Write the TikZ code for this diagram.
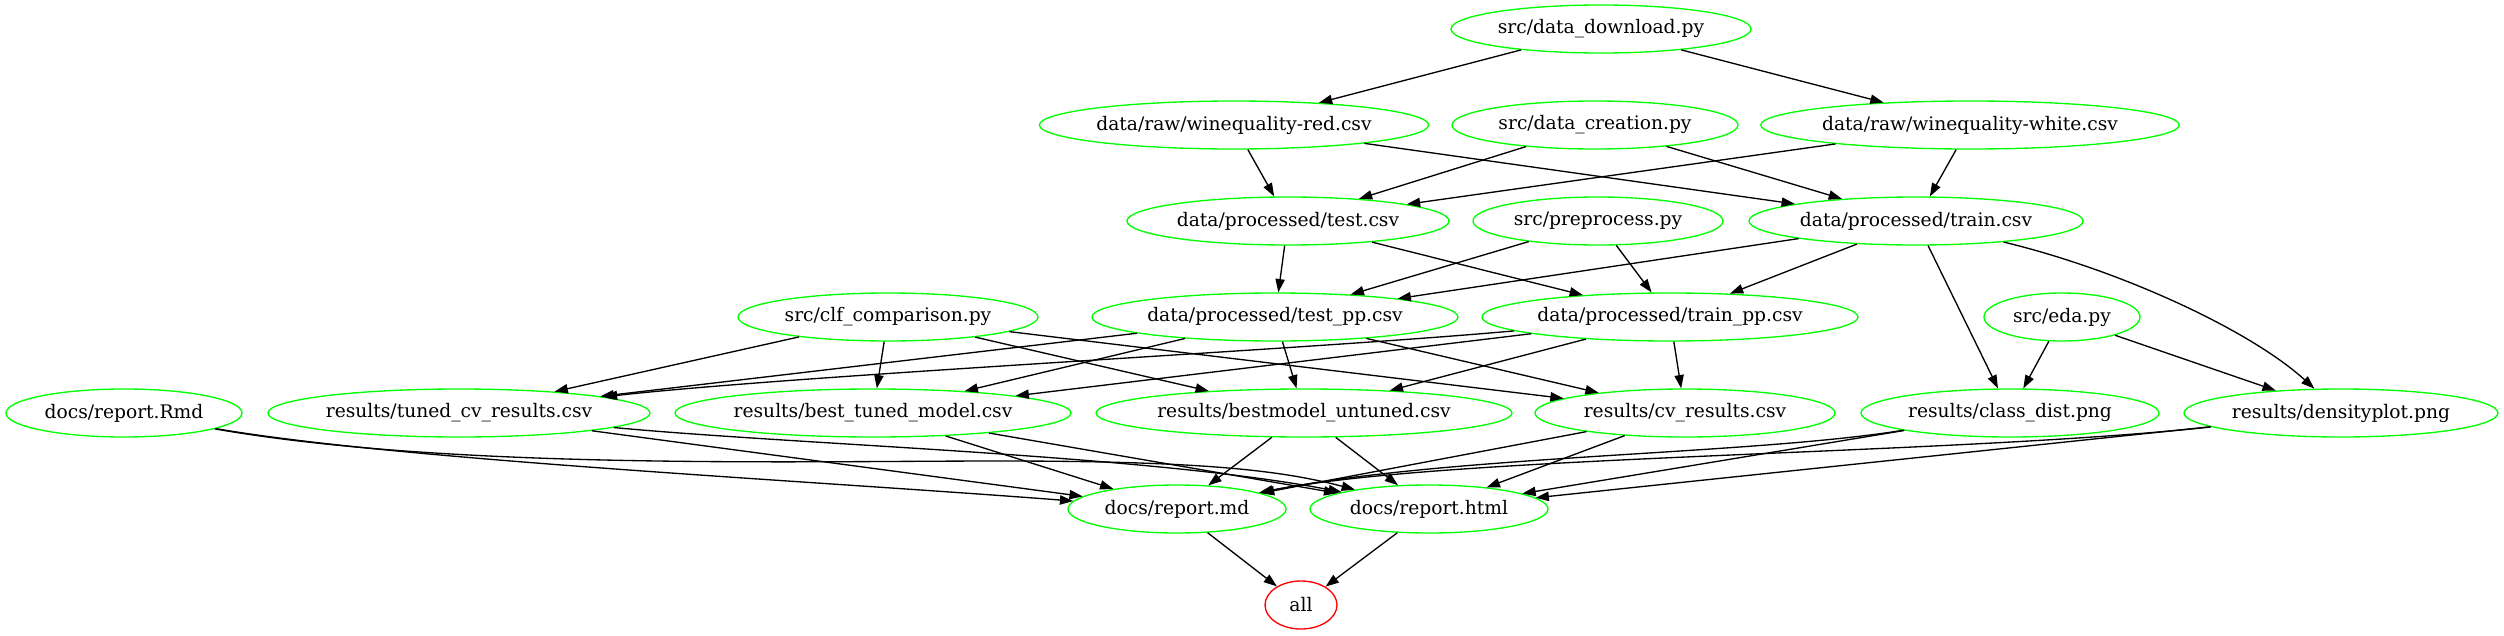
\documentclass[tikz,border=0pt]{standalone}
\usepackage{fontspec}
\setmainfont{DejaVu Serif}
\usetikzlibrary{shapes.geometric,arrows.meta}
\definecolor{gvgreen}{HTML}{00FF00}
\definecolor{gvred}{HTML}{FF0000}
\tikzset{
  gnode/.style={ellipse, draw=gvgreen, line width=1.33pt, minimum height=48pt, inner sep=0pt,
    font=\fontsize{18.67}{22}\selectfont},
  rnode/.style={gnode, draw=gvred},
  edge/.style={-{Triangle[length=13.3pt,width=9.3pt]}, line width=1.33pt, black}
}
\begin{document}
\begin{tikzpicture}[x=1pt,y=-1pt]
\useasboundingbox (0,0) rectangle (2504,635);
% nodes
\node[gnode, minimum width=300pt] (dl) at (1601,29) {src/data\_download.py};
\node[gnode, minimum width=388pt] (red) at (1234,125) {data/raw/winequality-red.csv};
\node[gnode, minimum width=286pt] (dc) at (1595,125) {src/data\_creation.py};
\node[gnode, minimum width=416pt] (white) at (1970,125) {data/raw/winequality-white.csv};
\node[gnode, minimum width=322pt] (test) at (1288,221) {data/processed/test.csv};
\node[gnode, minimum width=250pt] (pre) at (1598,221) {src/preprocess.py};
\node[gnode, minimum width=334pt] (train) at (1916,221) {data/processed/train.csv};
\node[gnode, minimum width=300pt] (clf) at (888,317) {src/clf\_comparison.py};
\node[gnode, minimum width=366pt] (testpp) at (1275,317) {data/processed/test\_pp.csv};
\node[gnode, minimum width=376pt] (trainpp) at (1670,317) {data/processed/train\_pp.csv};
\node[gnode, minimum width=156pt] (eda) at (2062,317) {src/eda.py};
\node[gnode, minimum width=236pt] (rmd) at (124,413) {docs/report.Rmd};
\node[gnode, minimum width=382pt] (tcv) at (459,413) {results/tuned\_cv\_results.csv};
\node[gnode, minimum width=396pt] (btm) at (873,413) {results/best\_tuned\_model.csv};
\node[gnode, minimum width=416pt] (bmu) at (1304,413) {results/bestmodel\_untuned.csv};
\node[gnode, minimum width=300pt] (cvr) at (1685,413) {results/cv\_results.csv};
\node[gnode, minimum width=298pt] (cd) at (2010,413) {results/class\_dist.png};
\node[gnode, minimum width=314pt] (dp) at (2341,413) {results/densityplot.png};
\node[gnode, minimum width=218pt] (md) at (1177,509) {docs/report.md};
\node[gnode, minimum width=238pt] (html) at (1429,509) {docs/report.html};
\node[rnode, minimum width=72pt] (all) at (1301,605) {all};
% edges
\draw[edge] (dl) -- (red);
\draw[edge] (dl) -- (white);
\draw[edge] (red) -- (test);
\draw[edge] (red) -- (train);
\draw[edge] (dc) -- (test);
\draw[edge] (dc) -- (train);
\draw[edge] (white) -- (test);
\draw[edge] (white) -- (train);
\draw[edge] (test) -- (testpp);
\draw[edge] (test) -- (trainpp);
\draw[edge] (pre) -- (testpp);
\draw[edge] (pre) -- (trainpp);
\draw[edge] (train) -- (testpp);
\draw[edge] (train) -- (trainpp);
\draw[edge] (train) -- (cd);
\draw[edge] (train) .. controls (2120,270) and (2250,330) .. (dp);
\draw[edge] (eda) -- (cd);
\draw[edge] (eda) -- (dp);
\draw[edge] (clf) -- (tcv);
\draw[edge] (clf) -- (btm);
\draw[edge] (clf) -- (bmu);
\draw[edge] (clf) -- (cvr);
\draw[edge] (testpp) -- (tcv);
\draw[edge] (testpp) -- (btm);
\draw[edge] (testpp) -- (bmu);
\draw[edge] (testpp) -- (cvr);
\draw[edge] (trainpp) .. controls (1300,350) and (800,375) .. (tcv);
\draw[edge] (trainpp) -- (btm);
\draw[edge] (trainpp) -- (bmu);
\draw[edge] (trainpp) -- (cvr);
\draw[edge] (rmd) .. controls (400,460) and (800,480) .. (md);
\draw[edge] (rmd) .. controls (450,470) and (800,461) .. (1000,461) .. controls (1200,461) and (1280,470) .. (html);
\draw[edge] (tcv) -- (md);
\draw[edge] (tcv) .. controls (800,445) and (1150,455) .. (html);
\draw[edge] (btm) -- (md);
\draw[edge] (btm) -- (html);
\draw[edge] (bmu) -- (md);
\draw[edge] (bmu) -- (html);
\draw[edge] (cvr) -- (md);
\draw[edge] (cvr) -- (html);
\draw[edge] (cd) .. controls (1750,455) and (1450,455) .. (md);
\draw[edge] (cd) -- (html);
\draw[edge] (dp) .. controls (1950,455) and (1450,455) .. (md);
\draw[edge] (dp) -- (html);
\draw[edge] (md) -- (all);
\draw[edge] (html) -- (all);
\end{tikzpicture}
\end{document}
